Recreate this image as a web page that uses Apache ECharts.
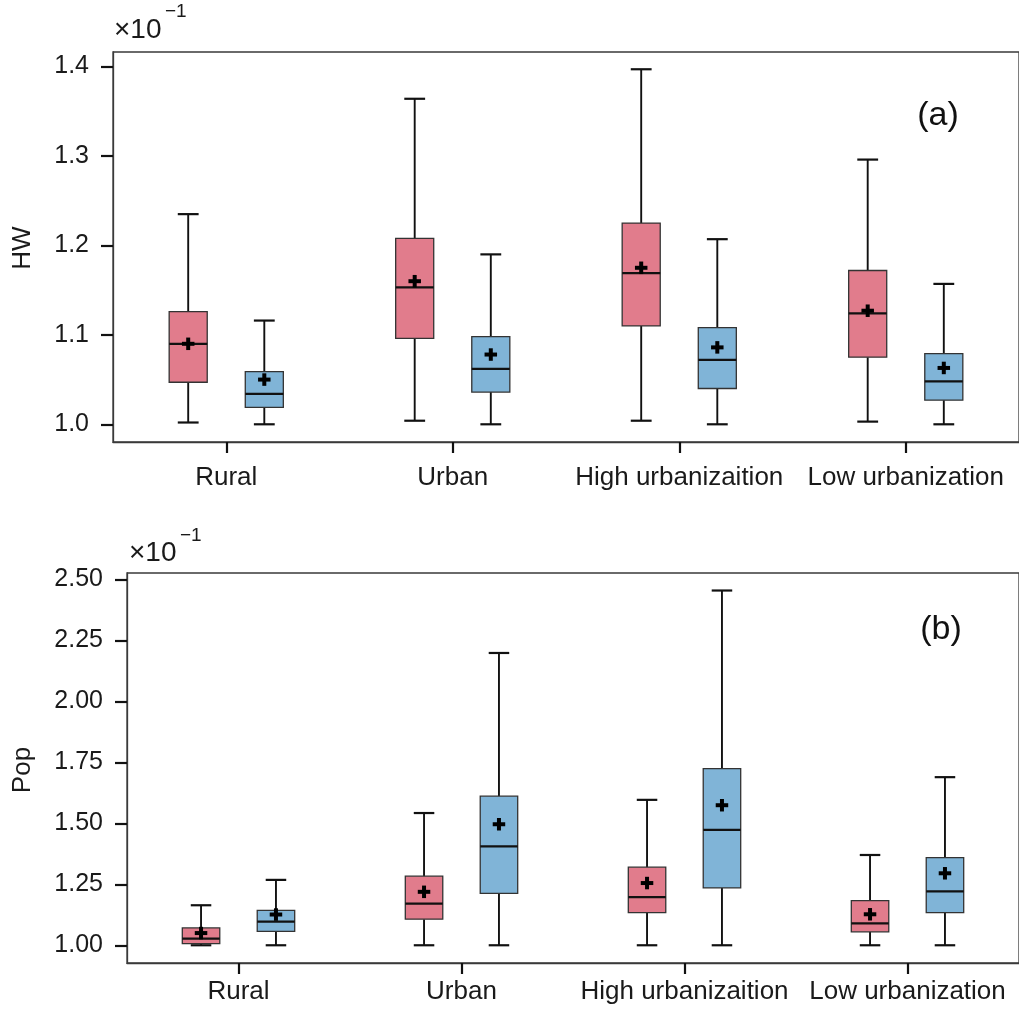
<!DOCTYPE html>
<html>
<head>
<meta charset="utf-8">
<title>HW and Pop by settlement type</title>
<script src="https://cdn.jsdelivr.net/npm/echarts@6/dist/echarts.min.js"></script>
<style>
  html, body { margin: 0; padding: 0; background: #ffffff; }
  #chart { width: 1019px; height: 1017px; }
</style>
</head>
<body>
<div id="chart"></div>
<script>
// Groups along the x axis
const categories = ['Rural', 'Urban', 'High urbanizaition', 'Low urbanization'];

// Box statistics per group: [min, Q1, median, Q3, max, mean]
// Panel (a): HW
const hwRed = [
  [1.002, 1.047, 1.090, 1.126, 1.235, 1.090],
  [1.004, 1.096, 1.153, 1.208, 1.364, 1.160],
  [1.004, 1.110, 1.169, 1.225, 1.397, 1.175],
  [1.003, 1.075, 1.124, 1.172, 1.296, 1.127]
];
const hwBlue = [
  [1.000, 1.019, 1.034, 1.059, 1.116, 1.050],
  [1.000, 1.036, 1.062, 1.098, 1.190, 1.078],
  [1.000, 1.040, 1.072, 1.108, 1.207, 1.086],
  [1.000, 1.027, 1.048, 1.079, 1.157, 1.063]
];
// Panel (b): Pop
const popRed = [
  [1.000, 1.007, 1.027, 1.071, 1.164, 1.050],
  [1.000, 1.107, 1.171, 1.283, 1.542, 1.219],
  [1.000, 1.134, 1.197, 1.320, 1.596, 1.255],
  [1.000, 1.055, 1.090, 1.183, 1.370, 1.127]
];
const popBlue = [
  [1.000, 1.057, 1.097, 1.143, 1.268, 1.126],
  [1.000, 1.213, 1.405, 1.611, 2.198, 1.496],
  [1.000, 1.235, 1.473, 1.724, 2.454, 1.574],
  [1.000, 1.134, 1.221, 1.359, 1.689, 1.295]
];

// Tick labels on the value axes
const hwTicks = [1.0, 1.1, 1.2, 1.3, 1.4];
const popTicks = [1.00, 1.25, 1.50, 1.75, 2.00, 2.25, 2.50];

const RED = '#e17c8c';
const BLUE = '#80b4d7';
const INK = '#111111';
const FRAME = '#3a3a3a';
const FONT = 'Liberation Sans';

const BOX_FRAC = 0.168;   // box width as a share of the category band
const CAP_FRAC = 0.092;   // whisker cap width as a share of the band
const OFFSET = 0.168;     // shift of each box from the band centre

function rowsOf(stats) {
  return stats.map((s, i) => [i].concat(s));
}

function boxRenderer(side, fill) {
  return function (params, api) {
    const cat = api.value(0);
    const band = api.size([1, 0])[0];
    const cx = api.coord([cat, 0])[0] + side * OFFSET * band;
    const w = BOX_FRAC * band;
    const cap = CAP_FRAC * band;
    const y = k => api.coord([cat, api.value(k)])[1];
    const yMin = y(1), yQ1 = y(2), yMed = y(3), yQ3 = y(4), yMax = y(5), yMean = y(6);
    const lineStyle = { stroke: INK, lineWidth: 1.9 };
    const arm = 12.5, thick = 4;
    return {
      type: 'group',
      children: [
        { type: 'line', shape: { x1: cx, y1: yQ3, x2: cx, y2: yMax }, style: lineStyle },
        { type: 'line', shape: { x1: cx, y1: yQ1, x2: cx, y2: yMin }, style: lineStyle },
        { type: 'line', shape: { x1: cx - cap / 2, y1: yMax, x2: cx + cap / 2, y2: yMax }, style: { stroke: INK, lineWidth: 2.2 } },
        { type: 'line', shape: { x1: cx - cap / 2, y1: yMin, x2: cx + cap / 2, y2: yMin }, style: { stroke: INK, lineWidth: 2.2 } },
        { type: 'rect', shape: { x: cx - w / 2, y: yQ3, width: w, height: yQ1 - yQ3 },
          style: { fill: fill, stroke: '#333333', lineWidth: 1.3 } },
        { type: 'line', shape: { x1: cx - w / 2, y1: yMed, x2: cx + w / 2, y2: yMed }, style: { stroke: INK, lineWidth: 2.2 } },
        { type: 'rect', shape: { x: cx - arm / 2, y: yMean - thick / 2, width: arm, height: thick }, style: { fill: '#000000' } },
        { type: 'rect', shape: { x: cx - thick / 2, y: yMean - arm / 2, width: thick, height: arm }, style: { fill: '#000000' } }
      ]
    };
  };
}

function boxSeries(stats, side, fill, axisIndex) {
  return {
    type: 'custom',
    xAxisIndex: axisIndex,
    yAxisIndex: axisIndex,
    renderItem: boxRenderer(side, fill),
    encode: { x: 0, y: [1, 2, 3, 4, 5, 6] },
    data: rowsOf(stats),
    clip: false
  };
}

function categoryAxis(gridIndex, margin) {
  return {
    type: 'category',
    gridIndex: gridIndex,
    data: categories,
    boundaryGap: true,
    axisLine: { show: true, lineStyle: { color: FRAME, width: 1.3 } },
    axisTick: { show: true, interval: 0, alignWithLabel: true, length: 11, lineStyle: { color: INK, width: 2.2 } },
    axisLabel: { interval: 0, hideOverlap: false, color: '#1a1a1a', fontFamily: FONT, fontSize: 26, margin: margin },
    splitLine: { show: false }
  };
}

function valueAxis(gridIndex, min, max, ticks, digits) {
  return {
    type: 'value',
    gridIndex: gridIndex,
    min: min,
    max: max,
    axisLine: { show: true, lineStyle: { color: FRAME, width: 1.3 } },
    axisTick: { show: true, length: 12, customValues: ticks, lineStyle: { color: INK, width: 2.2 } },
    axisLabel: {
      customValues: ticks,
      color: '#1a1a1a', fontFamily: FONT, fontSize: 25, margin: 24,
      formatter: v => Number(v).toFixed(digits)
    },
    splitLine: { show: false }
  };
}

function text(x, y, str, size) {
  return {
    type: 'text', x: x, y: y,
    style: { text: str, fontFamily: FONT, fontSize: size, fill: '#1a1a1a', align: 'left', verticalAlign: 'middle' }
  };
}

const chart = echarts.init(document.getElementById('chart'), null, { renderer: 'canvas' });
chart.setOption({
  animation: false,
  backgroundColor: '#ffffff',
  grid: [
    { left: 113, top: 52, width: 914, height: 390, show: true, borderColor: FRAME, borderWidth: 1.3, backgroundColor: 'transparent' },
    { left: 127, top: 573, width: 901, height: 390, show: true, borderColor: FRAME, borderWidth: 1.3, backgroundColor: 'transparent' }
  ],
  xAxis: [categoryAxis(0, 23), categoryAxis(1, 16)],
  yAxis: [
    valueAxis(0, 0.9802, 1.4163, hwTicks, 1),
    valueAxis(1, 0.9273, 2.5258, popTicks, 2)
  ],
  series: [
    boxSeries(hwRed, -1, RED, 0),
    boxSeries(hwBlue, 1, BLUE, 0),
    boxSeries(popRed, -1, RED, 1),
    boxSeries(popBlue, 1, BLUE, 1)
  ],
  graphic: [
    // axis names
    { type: 'text', x: 23, y: 248, rotation: Math.PI / 2,
      style: { text: 'HW', fontFamily: FONT, fontSize: 26, fill: '#1a1a1a', align: 'center', verticalAlign: 'middle' } },
    { type: 'text', x: 23, y: 770, rotation: Math.PI / 2,
      style: { text: 'Pop', fontFamily: FONT, fontSize: 26, fill: '#1a1a1a', align: 'center', verticalAlign: 'middle' } },
    // scale factor above each value axis
    text(114, 30, '\u00d710', 28),
    text(165, 12, '\u22121', 19),
    text(129, 553, '\u00d710', 28),
    text(180, 536, '\u22121', 19),
    // panel letters
    { type: 'text', x: 938, y: 116,
      style: { text: '(a)', fontFamily: FONT, fontSize: 34, fill: '#111111', align: 'center', verticalAlign: 'middle' } },
    { type: 'text', x: 941, y: 630,
      style: { text: '(b)', fontFamily: FONT, fontSize: 34, fill: '#111111', align: 'center', verticalAlign: 'middle' } }
  ]
});
</script>
</body>
</html>
